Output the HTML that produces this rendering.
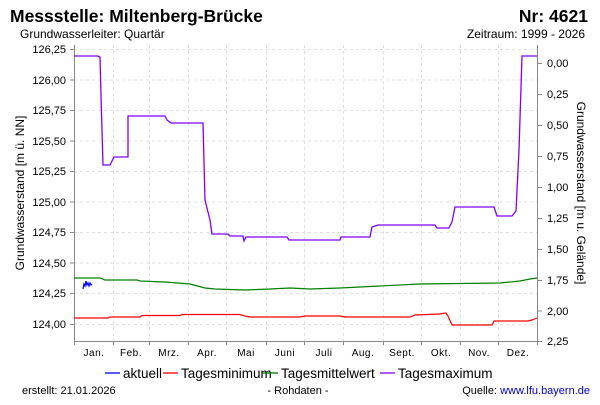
<!DOCTYPE html>
<html><head><meta charset="utf-8"><style>
body{margin:0;background:#fff;width:600px;height:400px;overflow:hidden}
svg{font-family:"Liberation Sans",sans-serif}
</style></head><body>
<svg width="600" height="400" xmlns="http://www.w3.org/2000/svg">
<rect width="600" height="400" fill="#fff"/>
<text x="10" y="22" font-size="17.5" font-weight="bold">Messstelle: Miltenberg-Brücke</text>
<text x="588" y="22" font-size="17.5" font-weight="bold" text-anchor="end">Nr: 4621</text>
<text x="20" y="38" font-size="12">Grundwasserleiter: Quartär</text>
<text x="585" y="38" font-size="12" text-anchor="end">Zeitraum: 1999 - 2026</text>
<g stroke="#e0e0e0" stroke-dasharray="3,3" stroke-width="1">
<line x1="74" y1="49.5" x2="538" y2="49.5"/><line x1="74" y1="80" x2="538" y2="80"/><line x1="74" y1="110.5" x2="538" y2="110.5"/><line x1="74" y1="141" x2="538" y2="141"/><line x1="74" y1="171.5" x2="538" y2="171.5"/><line x1="74" y1="202" x2="538" y2="202"/><line x1="74" y1="232.5" x2="538" y2="232.5"/><line x1="74" y1="263" x2="538" y2="263"/><line x1="74" y1="293.5" x2="538" y2="293.5"/><line x1="74" y1="324.5" x2="538" y2="324.5"/>
<line x1="113.5" y1="45" x2="113.5" y2="341"/><line x1="149.5" y1="45" x2="149.5" y2="341"/><line x1="188.5" y1="45" x2="188.5" y2="341"/><line x1="226.5" y1="45" x2="226.5" y2="341"/><line x1="266.5" y1="45" x2="266.5" y2="341"/><line x1="304.5" y1="45" x2="304.5" y2="341"/><line x1="343.5" y1="45" x2="343.5" y2="341"/><line x1="383.5" y1="45" x2="383.5" y2="341"/><line x1="421.5" y1="45" x2="421.5" y2="341"/><line x1="460.5" y1="45" x2="460.5" y2="341"/><line x1="498.5" y1="45" x2="498.5" y2="341"/>
</g>
<g stroke="#888" fill="none">
<line x1="74.5" y1="45" x2="74.5" y2="341"/><line x1="537.5" y1="45" x2="537.5" y2="341"/><line x1="74" y1="341.5" x2="538" y2="341.5"/>
<path d="M70 49.5h4M70 80h4M70 110.5h4M70 141h4M70 171.5h4M70 202h4M70 232.5h4M70 263h4M70 293.5h4M70 324.5h4"/>
<path d="M538 63.5h4M538 94.5h4M538 125.5h4M538 156.5h4M538 187.5h4M538 218.5h4M538 249.5h4M538 280.5h4M538 311h4M538 341.5h4"/>
<path d="M74.5 341v4M113.5 341v4M149.5 341v4M188.5 341v4M226.5 341v4M266.5 341v4M304.5 341v4M343.5 341v4M383.5 341v4M421.5 341v4M460.5 341v4M498.5 341v4M537.5 341v4"/>
</g>
<g font-size="11" text-anchor="end">
<text x="66" y="53">126,25</text><text x="66" y="84">126,00</text><text x="66" y="114">125,75</text><text x="66" y="145">125,50</text><text x="66" y="175">125,25</text><text x="66" y="206">125,00</text><text x="66" y="236">124,75</text><text x="66" y="267">124,50</text><text x="66" y="297">124,25</text><text x="66" y="328">124,00</text>
</g>
<g font-size="11">
<text x="547" y="67">0,00</text><text x="547" y="98">0,25</text><text x="547" y="129">0,50</text><text x="547" y="160">0,75</text><text x="547" y="191">1,00</text><text x="547" y="222">1,25</text><text x="547" y="253">1,50</text><text x="547" y="284">1,75</text><text x="547" y="315">2,00</text><text x="547" y="345">2,25</text>
</g>
<g font-size="10" text-anchor="middle" letter-spacing="0.5">
<text x="94" y="356">Jan.</text><text x="131" y="356">Feb.</text><text x="169" y="356">Mrz.</text><text x="207" y="356">Apr.</text><text x="246" y="356">Mai</text><text x="285" y="356">Juni</text><text x="324" y="356">Juli</text><text x="363" y="356">Aug.</text><text x="402" y="356">Sept.</text><text x="441" y="356">Okt.</text><text x="479" y="356">Nov.</text><text x="518" y="356">Dez.</text>
</g>
<text transform="translate(24,193) rotate(-90)" font-size="12" text-anchor="middle">Grundwasserstand [m ü. NN]</text>
<text transform="translate(577,193) rotate(90)" font-size="12" text-anchor="middle">Grundwasserstand [m u. Gelände]</text>
<polyline fill="none" stroke="#8000ff" stroke-width="1.3" points="74,56 98,56 100,57 101,95 103,165 110,165 114,157 128,157 128,116 165,116 167,120 171,123 203,123 205,200 210,220 212,234 228,234 230,236 243,236 244,241 246,237 287,237 289,240 340,240 341,237 370,237 372,227 378,225 435,225 437,228 449,228 452,222 455,207 494,207 497,216 512,216 516,211 519,150 522,56 537,56"/>
<polyline fill="none" stroke="#008000" stroke-width="1.2" points="74,278 100,278 105,280 137,280 140,281 165,282 190,284 205,288 215,289 245,290 270,289 290,288 310,289 340,288 380,286 420,284 500,283 520,281 530,279 537,278"/>
<polyline fill="none" stroke="#ff0000" stroke-width="1.2" points="74,318 108,318 110,317 140,317 142,315.5 180,315.5 182,314.5 240,314.5 245,316 250,317 300,317 305,316 340,316 345,317 410,317 415,315 440,314 446,313 448,316 452,325 492,325 494,321 528,321 532,320 537,318"/>
<polyline fill="none" stroke="#0000ff" stroke-width="1.2" points="83,289 84,284 85,286 86,281 87,285 88,283 89,286 90,283 91,285 92,284"/>
<g font-size="13.5">
<line x1="105" y1="373" x2="120" y2="373" stroke="#0000ff" stroke-width="1.3"/><text x="123" y="378">aktuell</text>
<line x1="163" y1="373" x2="178" y2="373" stroke="#ff0000" stroke-width="1.3"/><text x="181" y="378">Tagesminimum</text>
<line x1="263" y1="373" x2="278" y2="373" stroke="#008000" stroke-width="1.3"/><text x="281" y="378">Tagesmittelwert</text>
<line x1="380" y1="373" x2="395" y2="373" stroke="#8000ff" stroke-width="1.3"/><text x="398" y="378">Tagesmaximum</text>
</g>
<g font-size="11">
<text x="22" y="394">erstellt:  21.01.2026</text>
<text x="298" y="394" text-anchor="middle">- Rohdaten -</text>
<text x="590" y="394" text-anchor="end"><tspan fill="#000">Quelle: </tspan><tspan fill="#0000cc">www.lfu.bayern.de</tspan></text>
</g>
</svg>
</body></html>
